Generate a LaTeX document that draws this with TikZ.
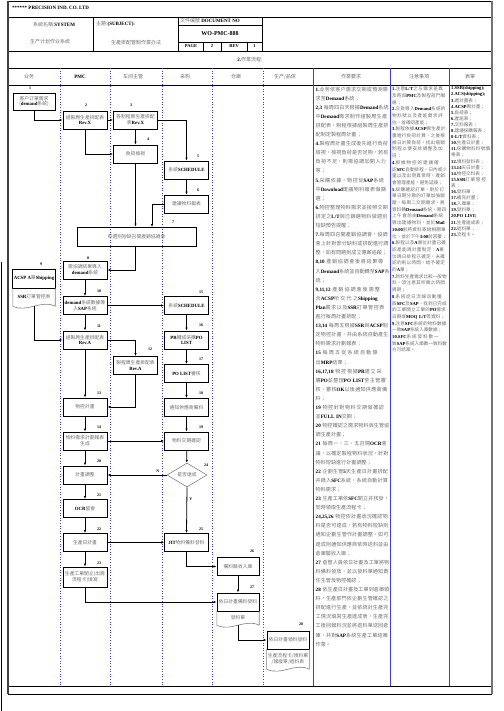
\documentclass[tikz,border=0pt]{standalone}
\usepackage{fontspec}
\setmainfont{Noto Sans CJK TC}
\newfontfamily\latf{Liberation Serif}
\XeTeXlinebreaklocale "zh"
\XeTeXlinebreakskip = 0pt plus 1pt
\usepackage{xcolor}
\usetikzlibrary{shapes.geometric,arrows.meta}
\definecolor{lanestroke}{HTML}{3a3aee}
\definecolor{txtgray}{HTML}{6e6e6e}
\newcommand{\entxt}[1]{{\latf\bfseries\color{black}#1}}
\tikzset{
  stepbox/.style={draw, line width=0.9pt, minimum width=44pt, minimum height=18pt,
                  inner sep=1pt, align=center, text=txtgray,
                  font=\fontsize{4.8}{5.8}\selectfont},
  docbox/.style={minimum width=42pt, inner sep=1pt, align=center, text=txtgray,
                 font=\fontsize{4.8}{5.8}\selectfont},
  docline/.style={draw=gray, line width=0.6pt},
  decide/.style={diamond, draw=gray, line width=0.6pt, aspect=1.7, inner sep=0pt,
                 minimum width=40pt, minimum height=24pt, text=txtgray,
                 font=\fontsize{4.8}{5.8}\selectfont},
  flow/.style={-{Latex[length=3pt,width=2.4pt]}, line width=0.8pt},
  numlab/.style={font=\latf\bfseries\fontsize{4}{4}\selectfont, inner sep=0pt},
  lanesep/.style={draw=lanestroke, dotted, line width=0.6pt},
  colsep/.style={draw=lanestroke, line width=0.7pt},
  frameline/.style={line width=0.9pt},
  hdr/.style={text=txtgray, inner sep=0pt, font=\fontsize{5}{6}\selectfont},
  coltext/.style={anchor=north west, inner sep=0pt, align=left, text=txtgray}
}
\begin{document}
\begin{tikzpicture}[x=1pt,y=-1pt]
  \useasboundingbox (0,0) rectangle (503,711);

  % --- page frame and header grid ---
  \draw[frameline] (8,1) -- (492,1);
  \draw[frameline] (8,17) -- (492,17);
  \draw[frameline] (8,51) -- (492,51);
  \draw[frameline] (8,68) -- (492,68);
  \draw[frameline] (8,85) -- (492,85);
  \draw[frameline] (8,686) -- (492,686);
  \draw[frameline] (8,694) -- (492,694);
  \draw[line width=1.5pt, black!75] (8,1) -- (8,694);
  \draw[line width=1.5pt, black!55] (492,1) -- (492,694);
  \draw[line width=1pt] (1,262) -- (1,711);
  \foreach \x in {93,178,262} \draw[frameline] (\x,17) -- (\x,51);
  \draw[frameline] (178,25) -- (262,25);
  \draw[frameline] (178,42) -- (262,42);
  \foreach \x in {203,221,247} \draw[frameline] (\x,42) -- (\x,51);

  % --- header texts ---
  \node[anchor=west, inner sep=0pt, font=\latf\bfseries\fontsize{5}{6}\selectfont] (company) at (12,8) {****** PRECISION IND. CO. LTD};
  \node[hdr] (sysname) at (54,25) {系統名稱:\entxt{SYSTEM}};
  \node[hdr] (systxt) at (50,42) {生产计划作业系统};
  \node[hdr, anchor=west] (subj) at (96,24) {主題:\entxt{(SUBJECT):}};
  \node[hdr] (subjtxt) at (136,43) {生產排配管制作業办法};
  \node[hdr, anchor=west] (docno) at (180,20.5) {文件编號 \entxt{DOCUMENT NO}};
  \node[inner sep=0pt, font=\latf\bfseries\fontsize{6}{7}\selectfont] (docid) at (220,33.5) {WO-PMC-888};
  \node[numlab, font=\latf\bfseries\fontsize{4.5}{5}\selectfont] (pg) at (191,46.5) {PAGE};
  \node[numlab, font=\latf\bfseries\fontsize{4.5}{5}\selectfont] (pgno) at (212,46.5) {2};
  \node[numlab, font=\latf\bfseries\fontsize{4.5}{5}\selectfont] (rev) at (234,46.5) {REV};
  \node[numlab, font=\latf\bfseries\fontsize{4.5}{5}\selectfont] (revno) at (254.5,46.5) {1};
  \node[hdr] (flowtitle) at (250,60) {\entxt{2.}作業流程:};

  % --- lane headers ---
  \node[hdr] (h-sales) at (29,76.5) {业务};
  \node[hdr] (h-pmc) at (80,76.5) {\entxt{PMC}};
  \node[hdr] (h-shop) at (133,76.5) {车间主管};
  \node[hdr] (h-buy) at (185,76.5) {采购};
  \node[hdr] (h-store) at (236,76.5) {仓庫};
  \node[hdr] (h-prod) at (285,76.5) {生产/品保};
  \node[hdr] (h-req) at (351,76.5) {作業要求};
  \node[hdr] (h-note) at (419,76.5) {注意事項};
  \node[hdr] (h-form) at (470,76.5) {表單};

  % --- lane separators ---
  \foreach \x in {60,110,162,212,263} \draw[lanesep] (\x,68) -- (\x,686);
  \foreach \x in {313,390,449} \draw[colsep] (\x,68) -- (\x,686);

  % --- weekly planning ---
  \node[stepbox, minimum width=42pt, minimum height=17pt] (n1) at (34,101.5) {客户订單需求\\(\entxt{demand}系統)};
  \node[stepbox] (n2) at (85,120) {組製周生產排配表\\\entxt{Rev.X}};
  \node[stepbox] (n3) at (135.5,120) {各制程周生產排配\\表\entxt{Rev.X}};
  \node[stepbox] (n4) at (135.5,154) {負荷檢視};
  \node[stepbox] (n5) at (186.5,170) {系統\entxt{SCHEDULE}};
  \node[stepbox] (n6) at (186.5,204) {建議物料報表};
  \node[stepbox, minimum width=119pt, minimum height=19pt] (n7) at (136.5,236.5) {有週別短缺召開產銷協調會};
  \coordinate (n7in) at (152,227);

  \node[numlab] at (30,88) {1};
  \node[numlab] at (86,105) {2};
  \node[numlab] at (131,105) {3};
  \node[numlab] at (148,139) {4};
  \node[numlab] at (198,156) {5};
  \node[numlab] at (198,190) {6};
  \node[numlab] at (173,222) {7};

  \draw[flow] (n1.south) |- (n2.west);
  \draw[flow] (n2) -- (n3);
  \draw[flow] (n3.east) -| (n5.north);
  \draw[flow] (n3) -- (n4);
  \draw[flow] (n2.south) |- (n4.west);
  \draw[flow] (n5) -- (n6);
  \draw[flow] (n4.south) -- (n4.south |- n7.north);
  \draw[flow] (n6.west) -| (n7in);

  % --- coordination result ---
  \node[stepbox] (n8) at (85,270) {需協調結果導入\\\entxt{demand}系統};
  \node[stepbox, minimum width=42pt, minimum height=19pt] (n9) at (34,278.5) {\entxt{ACSP A}單\entxt{Shipping}};
  \node[docbox, minimum height=18pt] (d9) at (34,297) {\entxt{SSR}訂單管控表};
  \draw[docline] (d9.north west) -- (d9.south west) .. controls +(14,7) and +(-14,-7) .. (d9.south east) -- (d9.north east);
  \node[stepbox] (n10) at (85,305.5) {\entxt{demand}系統數據導\\入\entxt{SAP}系統};
  \node[stepbox] (n11) at (85,340) {組製周生產排配表\\\entxt{Rev.A}};
  \node[stepbox] (n12) at (135.5,365.5) {製程周生產排配表\\\entxt{Rev.A}};
  \node[stepbox] (n13) at (85,407) {物控計畫};
  \node[stepbox] (n14) at (85,441) {物料需求計劃報表\\生成};

  \node[numlab] at (88,258) {8};
  \node[numlab] at (41,264) {9};
  \node[numlab] at (99,291) {10};
  \node[numlab] at (99,326) {11};
  \node[numlab] at (150,349) {12};
  \node[numlab] at (99,393) {13};
  \node[numlab] at (99,427) {14};

  \draw[flow] (n7.south -| n4.south) |- (n8.east);
  \draw[flow] (n8) -- (n10);
  \draw[flow] (n10) -- (n11);
  \draw[flow] (d9.south) |- (n11.west);
  \draw[flow] (n11.east) -| (n12.north);
  \draw[flow] (n11) -- (n13);
  \draw[flow] (n12.south) |- (n13.east);
  \draw[flow] (n13) -- (n14);

  % --- purchasing ---
  \node[stepbox] (s15) at (186.5,305.5) {系統\entxt{SCHEDULE}};
  \node[stepbox] (s16) at (186.5,340) {\entxt{PR}轉成采購\entxt{PO}\\\entxt{LIST}};
  \node[stepbox] (s17) at (186.5,373.5) {\entxt{PO LIST}審核};
  \node[stepbox] (s18) at (186.5,407.5) {通知供應商備料};
  \node[stepbox] (s19) at (186.5,441) {物料交期確認};
  \node[decide] (d24) at (187,475) {是否達成};

  \node[numlab] at (201,292) {15};
  \node[numlab] at (201,325) {16};
  \node[numlab] at (201,359) {17};
  \node[numlab] at (201,393) {18};
  \node[numlab] at (201,427) {19};
  \node[numlab] at (206,465) {24};

  \draw[flow] (n10) -- (s15);
  \draw[flow] (s15) -- (s16);
  \draw[flow] (s16) -- (s17);
  \draw[flow] (s17) -- (s18);
  \draw[flow] (s18) -- (s19);
  \draw[flow] (n14) -- (s19);
  \draw[flow] (s19) -- (d24);

  % --- daily plan ---
  \node[stepbox] (n20) at (85,475) {計畫調整};
  \node[stepbox] (n21) at (85,508.5) {\entxt{OCR}留會};
  \node[stepbox] (n22) at (85,542.5) {生產日計畫};
  \node[stepbox, minimum height=20pt] (n23) at (85,577) {生產工單開立(出需\\流程卡)填寫};
  \node[stepbox] (s25) at (186.5,542.5) {\entxt{JIT}物料備料發料};

  \node[numlab] at (99,461) {20};
  \node[numlab] at (99,495) {21};
  \node[numlab] at (99,529) {22};
  \node[numlab] at (99,563) {23};
  \node[numlab] at (201,529) {25};

  \draw[flow] (n14) -- (n20);
  \draw[flow] (d24.west) -- node[numlab, above=2pt, pos=0.15]{N} (n20.east);
  \draw[flow] (d24.south) -- node[numlab, right=2pt, pos=0.25]{Y} (s25.north);
  \draw[flow] (n20) -- (n21);
  \draw[flow] (n21) -- (n22);
  \draw[flow] (n22) -- (n23);
  \draw[flow] (n22) -- (s25);

  % --- warehouse and production ---
  \node[stepbox, minimum width=42pt] (n26) at (238,566.5) {備料驗收入庫};
  \node[stepbox, minimum width=42pt] (n27) at (238,602) {依日計畫備料發料};
  \node[docbox, minimum height=14pt] (d27) at (238,618) {發料單};
  \draw[docline] (d27.north west) -- (d27.south west) .. controls +(14,7) and +(-14,-7) .. (d27.south east) -- (d27.north east);
  \node[stepbox, minimum width=42pt] (n28) at (288,640) {依日計畫領料發料};
  \node[docbox, minimum height=20pt] (d28) at (288,659) {生產流程卡/領料單\\/報廢單/退料表};
  \draw[docline] (d28.north west) -- (d28.south west) .. controls +(14,7) and +(-14,-7) .. (d28.south east) -- (d28.north east);

  \node[numlab] at (252,551) {26};
  \node[numlab] at (252,587) {27};
  \node[numlab] at (301,624) {28};

  \draw[flow] (s25.south) |- (n26.west);
  \draw[flow] (n26) -- (n27);
  \draw[flow] (n23.south) |- (n27.west);
  \draw[flow] (d27.south) |- (n28.west);

  % --- text columns ---
  \node[coltext, text width=74pt, font=\fontsize{5.1}{9.1}\selectfont] (req) at (315.5,86.5) {%
    \entxt{1.}业务依客户需求交期或預測需求至\entxt{Demand}系統；\\
    \entxt{2,3} 每周四白天根據\entxt{Demand}系統中\entxt{Demand}需求制作組製周生產排配表，制程根據組製周生產排配制定製程周計畫；\\
    \entxt{4.}製程周計畫生成後先進行負荷檢視，檢視負荷是否足夠，若有負荷不足，則需協調加開人力等；\\
    \entxt{5.}采購依據，物控從\entxt{SAP}系統中\entxt{Download}建議物料報表做篩選；\\
    \entxt{6.}物控整理物料需求並按照交期排定之\entxt{L/T}與已篩選物料做週別短缺預告提醒；\\
    \entxt{7.}每周四召開產銷協調會，協調會上針對部分缺料或排配進行調整，如有問題則成立專案追蹤；\\
    \entxt{8,10} 產銷協調會後將結果導入\entxt{Demand}系統並自動轉至\entxt{SAP}系統；\\
    \entxt{9,11,12} 產銷協調會後需整合\entxt{ACSP}所交代之\entxt{Shipping Plan}需求以及\entxt{SSR}訂單管控表進行每周計畫排配；\\
    \entxt{13,14} 每周五根據\entxt{SSR}與\entxt{ACSP}制定物控計畫，并由系統自動產生物料需求計劃報表；\\
    \entxt{15} 每周五從系統自動導出\entxt{MRP}結果；\\
    \entxt{16,17,18} 物控根據\entxt{PR}建立采購\entxt{PO}並整理\entxt{PO LIST}至主管審核，審核\entxt{OK}以後通知供應商備料；\\
    \entxt{19} 物控針對物料交期做確認並\entxt{FULL IN}交期；\\
    \entxt{20} 物控確認之需求物料與生管協調生產計畫；\\
    \entxt{21} 每周一、三、五召開\entxt{OCR}會議，以確定製程物料狀況，針對物料短缺進行計畫調整；\\
    \entxt{22} 企劃生管\entxt{5}天生產日計畫排配并錄入\entxt{SFC}系統，系統自動計算物料需求；\\
    \entxt{23} 生產工單依\entxt{SFC}開立并核發，同時領取生產流程卡；\\
    \entxt{24,25,26} 物控依計畫狀況確認物料是否可達成，若有物料短缺則通知企劃生管作計畫調整，如可達成則通知供應商依時送料並由倉庫驗收入庫；\\
    \entxt{27} 倉管人員依日計畫及工單將物料備料發放，並以發料單通知責任生管及物控確認；\\
    \entxt{28} 依生產日計畫及工單到倉庫領料，生產部門依企劃生管確認之排配進行生產，並依統計生產完工情況填寫生產達成表，生產完工後回報料況並將退料單送回倉庫，并對\entxt{SAP}系統生產工單結案作業。};

  \node[coltext, text width=55pt, font=\fontsize{4.6}{6.7}\selectfont] (note) at (392,86.5) {%
    \entxt{1.}注意\entxt{L/T}之与需求差異及時與\entxt{PMC}及製程部門聯絡；\\
    \entxt{2.}交貨導入\entxt{Demand}系統的物料號以及產能需求評估，並確認產能；\\
    \entxt{3.}製程依據\entxt{ACSP}周生產計畫進行負荷計算，之後根據日計算負荷，找出瓶頸制程以便安排調整及加班；\\
    \entxt{4.}根據物控的建議確認\entxt{SFC}自動排程，日內或少量以及出現異常時，產銷會管理產能，避免延誤；\\
    \entxt{5.}採購確認訂單，對於訂單日期分散的訂單加強跟蹤，每周二交期需求，將資料轉\entxt{Demand}系統，周四上午會前由\entxt{Demand}系統導出建議物料，並於\entxt{Mail 10:00}前將資料寄給相關單位，並於下午\entxt{3:00}前回覆；\\
    \entxt{6.}製程以及\entxt{A}單位計畫已確認產能周計畫制定：\entxt{A}單位周日排程已確定，未確認的則以時間，給予確定的\entxt{A}單；\\
    \entxt{7.}新料生產需求比較一般物料，須注意其所需之時間周期；\\
    \entxt{8.}系統從日流線自動獲取\entxt{SFC}及\entxt{SAP}，找到已完成的工單開立工單的\entxt{PO}需求日期或\entxt{MOQ L/T}等資料；\\
    \entxt{9.}注意\entxt{SFC}系統的物料數據一致\entxt{SAP}系統入庫數據；\\
    \entxt{10.}\entxt{SFC}系統發料數一致\entxt{SAP}系統入庫數一致料數方可結案。};

  \node[coltext, text width=41pt, font=\fontsize{4.6}{6.1}\selectfont] (forms) at (451,86.5) {%
    \entxt{1.SSR(shipping);}\\
    \entxt{2.ACS(shipping);}\\
    \entxt{3.}週計畫表；\\
    \entxt{4.ACSP}周計畫；\\
    \entxt{5.}負荷表；\\
    \entxt{6.}產能表；\\
    \entxt{7.}交料報表；\\
    \entxt{8.}建議採購報表；\\
    \entxt{8-L/T}資料表；\\
    \entxt{10.}生產日計畫；\\
    \entxt{11.}採購物料料號價格表；\\
    \entxt{12.}領料發料表；\\
    \entxt{13.14}天日計畫；\\
    \entxt{14.}物控交料表；\\
    \entxt{15.SSR}訂單管控表；\\
    \entxt{16.}發料單；\\
    \entxt{17.}補充計畫；\\
    \entxt{18.}入庫單；\\
    \entxt{19.}發料單；\\
    \entxt{20.PO LIST;}\\
    \entxt{21.}生產達成表；\\
    \entxt{22.}退料單；\\
    \entxt{23.}流程卡。};

\end{tikzpicture}
\end{document}
